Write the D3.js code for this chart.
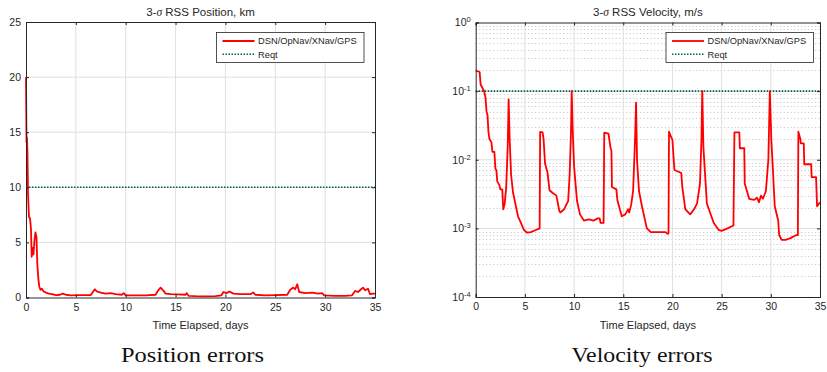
<!DOCTYPE html>
<html>
<head>
<meta charset="utf-8">
<script src="https://cdn.jsdelivr.net/npm/d3@7"></script>
<style>
  body { margin: 0; background: #fff; }
  svg { display: block; }
  text { font-family: "Liberation Sans", Arial, sans-serif; fill: #262626; }
  .caption { font-family: "Liberation Serif", "DejaVu Serif", serif; fill: #111; }
</style>
</head>
<body>
<script>
// position error, km, vs days
const posT = [0, 0.05, 0.1, 0.15, 0.2, 0.3, 0.4, 0.5, 0.57, 0.65, 0.75, 0.85, 0.95, 1.05, 1.13, 1.25, 1.33, 1.45, 1.6, 1.75, 2.0, 2.3, 2.6, 3.0, 3.4, 3.7, 4.0, 4.5, 5.5, 6.5, 6.7, 6.9, 7.1, 7.5, 8.0, 8.5, 9.0, 9.6, 9.8, 10.0, 11, 12, 13.0, 13.3, 13.5, 13.8, 14.0, 14.5, 15.2, 16.0, 16.1, 16.3, 17, 18, 19, 19.6, 19.8, 20.1, 20.4, 20.8, 21.5, 22.5, 22.8, 23.0, 24, 25, 26.2, 26.5, 26.8, 27.0, 27.2, 27.4, 28, 28.7, 29.3, 29.7, 29.9, 31, 32, 32.7, 33.0, 33.3, 33.6, 33.8, 34.0, 34.3, 34.5, 34.8, 35];
const posV = [20, 14.1, 14.5, 13, 9.5, 7.3, 7.2, 6.2, 3.7, 4.5, 3.9, 5.2, 5.9, 5.5, 3.1, 1.6, 1.0, 0.7, 0.8, 0.55, 0.45, 0.35, 0.3, 0.22, 0.25, 0.35, 0.25, 0.2, 0.22, 0.22, 0.5, 0.75, 0.55, 0.45, 0.35, 0.4, 0.3, 0.25, 0.4, 0.2, 0.2, 0.2, 0.25, 0.7, 0.9, 0.6, 0.35, 0.3, 0.28, 0.25, 0.4, 0.15, 0.12, 0.1, 0.12, 0.2, 0.5, 0.4, 0.55, 0.35, 0.3, 0.3, 0.45, 0.25, 0.2, 0.22, 0.25, 0.7, 0.9, 0.75, 1.2, 0.5, 0.4, 0.45, 0.35, 0.4, 0.2, 0.15, 0.15, 0.2, 0.6, 0.5, 0.75, 0.9, 0.65, 0.8, 0.3, 0.35, 0.35];

// velocity error, m/s, vs days
const velT = [0, 0.4, 0.5, 0.7, 0.85, 1.0, 1.1, 1.2, 1.3, 1.4, 1.6, 1.7, 1.9, 2.0, 2.1, 2.2, 2.4, 2.5, 2.7, 2.8, 2.95, 3.1, 3.25, 3.35, 3.45, 3.6, 3.8, 4.0, 4.3, 4.6, 4.9, 5.2, 5.6, 6.0, 6.5, 6.55, 6.8, 6.9, 7.05, 7.3, 7.5, 7.8, 8.2, 8.5, 8.6, 9.0, 9.2, 9.4, 9.55, 9.7, 9.76, 9.85, 10.0, 10.3, 10.6, 11.0, 11.5, 12.0, 12.4, 12.6, 12.7, 13.0, 13.07, 13.5, 13.7, 13.8, 13.85, 14.3, 14.4, 14.65, 14.85, 15.2, 15.5, 15.6, 15.8, 16.0, 16.2, 16.3, 16.4, 16.6, 16.9, 17.4, 17.8, 18.5, 19.3, 19.5, 19.6, 19.65, 20.0, 20.2, 20.9, 21.0, 21.2, 21.3, 21.8, 22.2, 22.5, 22.8, 22.95, 23.03, 23.15, 23.5, 24.2, 24.7, 25.0, 25.6, 26.2, 26.3, 26.8, 26.85, 27.3, 27.35, 27.55, 27.8, 28.3, 28.6, 28.8, 29.0, 29.2, 29.5, 29.75, 29.9, 30.05, 30.4, 30.75, 30.85, 31.1, 31.5, 32.0, 32.6, 32.75, 32.8, 33.0, 33.05, 33.35, 33.4, 34.1, 34.15, 34.6, 34.7, 35.0];
const velV = [0.2, 0.19, 0.125, 0.11, 0.1, 0.08, 0.05, 0.045, 0.025, 0.02, 0.018, 0.013, 0.013, 0.0075, 0.007, 0.0048, 0.0043, 0.0037, 0.0037, 0.0019, 0.0023, 0.004, 0.015, 0.076, 0.02, 0.006, 0.0033, 0.0024, 0.0015, 0.0012, 0.00095, 0.00087, 0.00088, 0.00093, 0.001, 0.0255, 0.025, 0.02, 0.0088, 0.0065, 0.0036, 0.0033, 0.003, 0.0018, 0.0017, 0.0019, 0.0022, 0.0025, 0.006, 0.03, 0.1, 0.03, 0.008, 0.0025, 0.0016, 0.0013, 0.00135, 0.0013, 0.0014, 0.0014, 0.0012, 0.0012, 0.0248, 0.024, 0.015, 0.0135, 0.004, 0.0037, 0.0026, 0.0019, 0.0015, 0.0016, 0.0019, 0.0017, 0.0022, 0.0035, 0.02, 0.068, 0.01, 0.0035, 0.0021, 0.001, 0.00088, 0.00088, 0.00088, 0.00083, 0.00085, 0.0256, 0.0194, 0.0071, 0.0064, 0.004, 0.0025, 0.0019, 0.0016, 0.0019, 0.0023, 0.0045, 0.02, 0.1, 0.015, 0.0023, 0.0012, 0.00095, 0.00092, 0.001, 0.0011, 0.025, 0.025, 0.0147, 0.0147, 0.0045, 0.0036, 0.0027, 0.0026, 0.0028, 0.0024, 0.003, 0.0027, 0.0035, 0.01, 0.1, 0.02, 0.0021, 0.0013, 0.0008, 0.00068, 0.00068, 0.00072, 0.0008, 0.0008, 0.0256, 0.02, 0.0173, 0.0173, 0.0086, 0.0086, 0.0056, 0.0056, 0.0021, 0.0024];

const xTicks = [0, 5, 10, 15, 20, 25, 30, 35];
const posTicks = [0, 5, 10, 15, 20, 25];
const velExps = [0, -1, -2, -3, -4];
const posReqt = 10;   // km
const velReqt = 0.1;  // m/s
const seriesNames = ["DSN/OpNav/XNav/GPS", "Reqt"];

const W = 827, H = 372;
const red = "#ff0000", green = "#00604c", axisCol = "#262626", gridCol = "#e0e0e0";
const font = "Liberation Sans, Arial, sans-serif";

const svg = d3.select("body").append("svg")
    .attr("width", W)
    .attr("height", H);

function panel(cfg) {
    const g = svg.append("g");
    const x = d3.scaleLinear().domain([0, 35]).range([cfg.left, cfg.right]);
    const y = cfg.y;
    const [y0, y1] = [y.range()[0], y.range()[1]];

    // minor grid (log only)
    if (cfg.minor) {
        g.append("g").selectAll("line").data(cfg.minor).join("line")
            .attr("x1", cfg.left).attr("x2", cfg.right)
            .attr("y1", d => Math.round(y(d)) + 0.5).attr("y2", d => Math.round(y(d)) + 0.5)
            .attr("stroke", "#b4b4b4").attr("stroke-width", 0.8)
            .attr("stroke-dasharray", "1,2.5");
    }
    // major grid
    g.append("g").selectAll("line").data(xTicks.slice(1, -1)).join("line")
        .attr("x1", d => x(d)).attr("x2", d => x(d))
        .attr("y1", y0).attr("y2", y1)
        .attr("stroke", gridCol).attr("stroke-width", 1);
    g.append("g").selectAll("line").data(cfg.yTicks.slice(1, -1)).join("line")
        .attr("x1", cfg.left).attr("x2", cfg.right)
        .attr("y1", d => y(d)).attr("y2", d => y(d))
        .attr("stroke", gridCol).attr("stroke-width", 1);

    // requirement line
    g.append("line")
        .attr("x1", cfg.left).attr("x2", cfg.right)
        .attr("y1", y(cfg.reqt)).attr("y2", y(cfg.reqt))
        .attr("stroke", green).attr("stroke-width", 1.6)
        .attr("stroke-dasharray", "1.5,1.5");

    // data line
    const line = d3.line().x(d => x(d[0])).y(d => y(d[1]));
    g.append("path")
        .datum(d3.zip(cfg.t, cfg.v))
        .attr("d", line)
        .attr("fill", "none")
        .attr("stroke", red).attr("stroke-width", 1.8)
        .attr("stroke-linejoin", "round");

    // axes (ticks inside, box all round)
    const tl = 3;
    g.append("g").attr("transform", `translate(0,${y0})`)
        .call(d3.axisBottom(x).tickValues(xTicks).tickSize(-tl).tickPadding(6))
        .call(a => a.select(".domain").attr("stroke", axisCol))
        .call(a => a.selectAll("line").attr("stroke", axisCol))
        .call(a => a.selectAll("text").attr("font-size", 10.5).attr("fill", axisCol)
            .attr("font-family", font));
    g.append("g").attr("transform", `translate(0,${y1})`)
        .call(d3.axisTop(x).tickValues(xTicks).tickSize(-tl).tickFormat(""))
        .call(a => a.select(".domain").attr("stroke", axisCol))
        .call(a => a.selectAll("line").attr("stroke", axisCol));
    const yl = g.append("g").attr("transform", `translate(${cfg.left},0)`)
        .call(d3.axisLeft(y).tickValues(cfg.yTicks).tickSize(-tl).tickPadding(5).tickFormat(cfg.fmt || null))
        .call(a => a.select(".domain").attr("stroke", axisCol))
        .call(a => a.selectAll("line").attr("stroke", axisCol))
        .call(a => a.selectAll("text").attr("font-size", 10.5).attr("fill", axisCol)
            .attr("font-family", font));
    if (cfg.sup) yl.selectAll(".tick text").each(cfg.sup);
    g.append("g").attr("transform", `translate(${cfg.right},0)`)
        .call(d3.axisRight(y).tickValues(cfg.yTicks).tickSize(-tl).tickFormat(""))
        .call(a => a.select(".domain").attr("stroke", axisCol))
        .call(a => a.selectAll("line").attr("stroke", axisCol));

    // titles
    const cx = (cfg.left + cfg.right) / 2;
    const title = g.append("text").attr("x", cx).attr("y", 16)
        .attr("text-anchor", "middle").attr("font-size", 11.5);
    title.append("tspan").text("3-");
    title.append("tspan").attr("font-style", "italic").attr("font-family", "Liberation Serif, serif").text("σ");
    title.append("tspan").text(" " + cfg.title);
    g.append("text").attr("x", cx).attr("y", 329)
        .attr("text-anchor", "middle").attr("font-size", 11)
        .text("Time Elapsed, days");
    g.append("text").attr("class", "caption").attr("x", cfg.capX).attr("y", 362)
        .attr("text-anchor", "middle").attr("font-size", 21.5)
        .attr("textLength", cfg.capW).attr("lengthAdjust", "spacingAndGlyphs")
        .text(cfg.caption);

    // legend
    const lg = g.append("g").attr("transform", `translate(${cfg.legX},32.5)`);
    lg.append("rect").attr("width", 147.5).attr("height", 30)
        .attr("fill", "#fff").attr("stroke", axisCol).attr("stroke-width", 0.8);
    const rows = [{ c: red, d: null, w: 1.8 }, { c: green, d: "1.5,1.5", w: 1.6 }];
    rows.forEach((r, i) => {
        const yy = 8.5 + i * 13.3;
        lg.append("line").attr("x1", 6).attr("x2", 38).attr("y1", yy).attr("y2", yy)
            .attr("stroke", r.c).attr("stroke-width", r.w)
            .attr("stroke-dasharray", r.d);
        lg.append("text").attr("x", 41.5).attr("y", yy + 3.3)
            .attr("font-size", 9.3).text(seriesNames[i]);
    });
}

// left: position
panel({
    left: 26, right: 375,
    y: d3.scaleLinear().domain([0, 25]).range([297.5, 22]),
    yTicks: posTicks,
    t: posT, v: posV, reqt: posReqt,
    title: "RSS Position, km",
    caption: "Position errors", capX: 192.5, capW: 143,
    legX: 216.5
});

// right: velocity (log)
const velTicks = velExps.map(e => Math.pow(10, e)).reverse();
const minor = [];
velExps.slice(1).forEach(e => { for (let k = 2; k <= 9; k++) minor.push(k * Math.pow(10, e)); });
panel({
    left: 475.7, right: 820,
    y: d3.scaleLog().domain([1e-4, 1]).range([297, 22.5]),
    yTicks: velTicks,
    minor: minor,
    fmt: () => "",
    sup: function(d) {
        const t = d3.select(this).text(null);
        t.append("tspan").text("10");
        t.append("tspan").attr("dy", -4).attr("font-size", 7.5).text(Math.round(Math.log10(d)));
    },
    t: velT, v: velV, reqt: velReqt,
    title: "RSS Velocity, m/s",
    caption: "Velocity errors", capX: 642, capW: 141,
    legX: 666
});
</script>
</body>
</html>
